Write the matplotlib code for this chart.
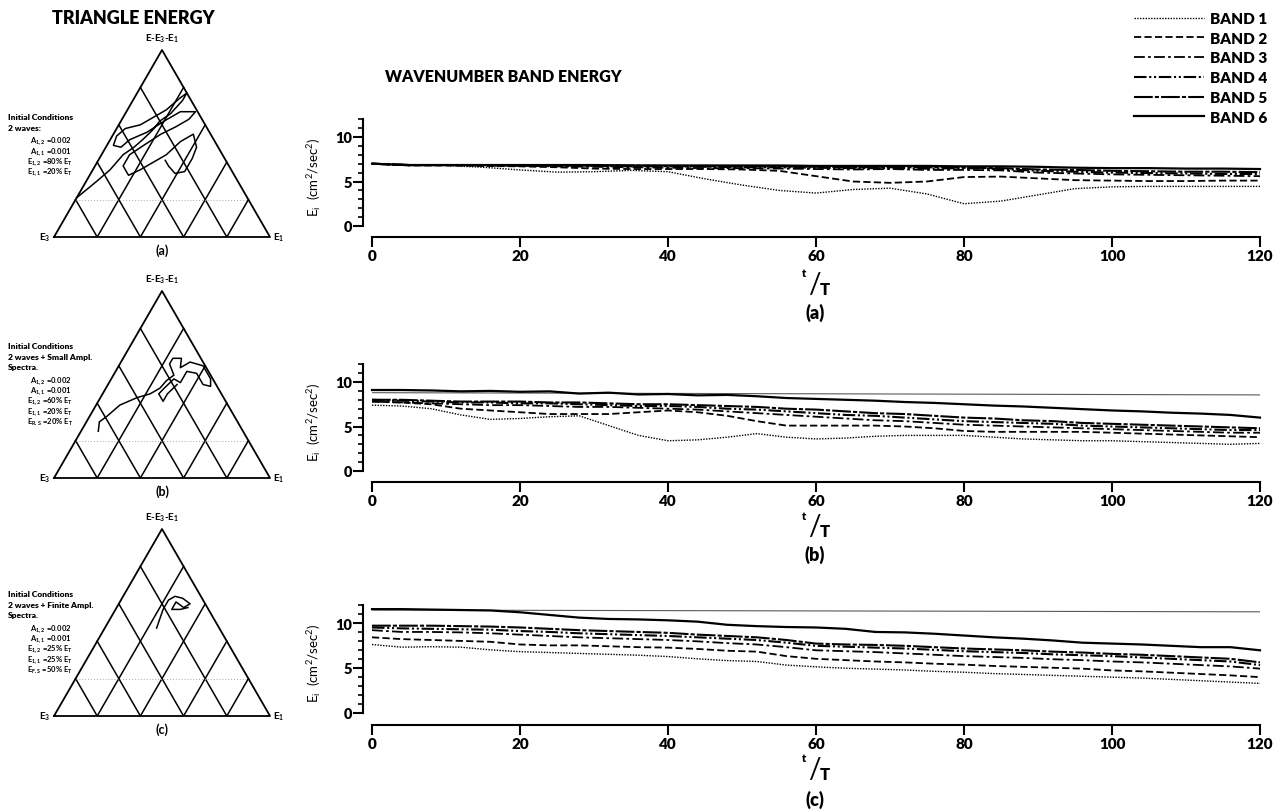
import numpy as np
import matplotlib
matplotlib.use('Agg')
import matplotlib.pyplot as plt
from matplotlib.ticker import MultipleLocator

W, H = 1287, 812
plt.rcParams['font.family'] = ['Lato', 'DejaVu Sans']
plt.rcParams['font.weight'] = 'heavy'
plt.rcParams['mathtext.default'] = 'regular'

# ---- band energy time series ----
t_a = np.arange(0, 121, 5)
t_bc = np.arange(0, 121, 4)

band_labels = ['BAND 1', 'BAND 2', 'BAND 3', 'BAND 4', 'BAND 5', 'BAND 6']

a1 = [7.0, 6.8, 6.8, 6.6, 6.3, 6.05, 6.1, 6.25, 6.1, 5.3, 4.6, 4.0, 3.7, 4.1, 4.25, 3.6, 2.5, 2.8, 3.5, 4.2, 4.4, 4.45, 4.45, 4.45, 4.45]
a2 = [7.0, 6.8, 6.8, 6.75, 6.7, 6.6, 6.45, 6.4, 6.4, 6.4, 6.35, 6.2, 5.6, 5.0, 4.85, 5.0, 5.5, 5.55, 5.35, 5.15, 5.1, 5.05, 5.05, 5.1, 5.1]
a3 = [7.0, 6.85, 6.85, 6.8, 6.75, 6.7, 6.65, 6.6, 6.55, 6.5, 6.5, 6.45, 6.4, 6.35, 6.4, 6.3, 6.3, 6.25, 6.0, 5.9, 5.8, 5.75, 5.7, 5.65, 5.6]
a4 = [7.0, 6.85, 6.85, 6.85, 6.8, 6.8, 6.75, 6.7, 6.7, 6.65, 6.6, 6.6, 6.55, 6.5, 6.5, 6.45, 6.5, 6.4, 6.2, 6.1, 6.0, 5.95, 5.9, 5.85, 5.85]
a5 = [7.0, 6.85, 6.85, 6.85, 6.85, 6.8, 6.8, 6.8, 6.75, 6.75, 6.7, 6.7, 6.65, 6.6, 6.6, 6.6, 6.55, 6.5, 6.35, 6.3, 6.2, 6.15, 6.1, 6.1, 6.05]
a6 = [7.0, 6.85, 6.85, 6.85, 6.85, 6.85, 6.85, 6.8, 6.8, 6.8, 6.8, 6.8, 6.75, 6.75, 6.75, 6.75, 6.7, 6.7, 6.65, 6.55, 6.5, 6.5, 6.45, 6.45, 6.4]

b1 = [7.4, 7.3, 7.0, 6.3, 5.8, 5.9, 6.1, 6.2, 5.1, 4.0, 3.4, 3.5, 3.8, 4.2, 3.8, 3.6, 3.7, 3.9, 4.0, 4.0, 4.0, 3.8, 3.6, 3.5, 3.4, 3.4, 3.3, 3.2, 3.1, 3.0, 3.1]
b2 = [7.8, 7.7, 7.5, 7.0, 6.8, 6.6, 6.4, 6.4, 6.4, 6.6, 6.8, 6.6, 6.2, 5.6, 5.1, 5.1, 5.1, 5.1, 5.0, 4.8, 4.5, 4.4, 4.4, 4.4, 4.4, 4.3, 4.2, 4.1, 4.0, 3.9, 3.8]
b3 = [7.8, 7.7, 7.6, 7.5, 7.4, 7.4, 7.3, 7.2, 7.2, 7.1, 7.0, 6.9, 6.7, 6.5, 6.3, 6.1, 5.9, 5.7, 5.6, 5.4, 5.2, 5.1, 5.0, 4.9, 4.8, 4.7, 4.6, 4.5, 4.4, 4.3, 4.3]
b4 = [8.0, 7.9, 7.8, 7.7, 7.7, 7.6, 7.6, 7.5, 7.4, 7.3, 7.3, 7.2, 7.0, 6.9, 6.7, 6.5, 6.3, 6.2, 6.0, 5.8, 5.6, 5.5, 5.4, 5.3, 5.1, 5.0, 4.9, 4.8, 4.7, 4.6, 4.6]
b5 = [8.0, 8.0, 7.9, 7.8, 7.8, 7.8, 7.7, 7.7, 7.6, 7.5, 7.5, 7.4, 7.3, 7.2, 7.0, 6.9, 6.7, 6.5, 6.4, 6.2, 6.0, 5.9, 5.7, 5.6, 5.4, 5.3, 5.2, 5.1, 5.0, 4.9, 4.8]
b6 = [9.1, 9.1, 9.05, 8.95, 9.0, 8.9, 8.95, 8.7, 8.8, 8.6, 8.65, 8.5, 8.55, 8.4, 8.2, 8.1, 8.0, 7.9, 7.75, 7.65, 7.5, 7.35, 7.25, 7.1, 6.95, 6.8, 6.7, 6.55, 6.45, 6.3, 6.0]

c1 = [7.6, 7.3, 7.35, 7.3, 7.0, 6.8, 6.7, 6.6, 6.5, 6.4, 6.25, 6.0, 5.8, 5.7, 5.3, 5.1, 4.95, 4.85, 4.75, 4.6, 4.5, 4.35, 4.25, 4.15, 4.05, 3.95, 3.85, 3.7, 3.55, 3.4, 3.25]
c2 = [8.4, 8.2, 8.1, 8.0, 7.9, 7.6, 7.5, 7.5, 7.4, 7.3, 7.25, 7.1, 6.9, 6.8, 6.3, 6.0, 5.85, 5.7, 5.6, 5.45, 5.35, 5.2, 5.1, 5.0, 4.9, 4.7, 4.6, 4.45, 4.3, 4.15, 3.95]
c3 = [9.2, 9.0, 9.0, 8.95, 8.85, 8.7, 8.55, 8.4, 8.3, 8.2, 8.1, 7.95, 7.75, 7.6, 7.3, 6.95, 6.85, 6.75, 6.6, 6.45, 6.3, 6.2, 6.1, 5.95, 5.85, 5.7, 5.6, 5.45, 5.3, 5.15, 4.9]
c4 = [9.5, 9.4, 9.35, 9.3, 9.25, 9.1, 9.0, 8.85, 8.75, 8.65, 8.55, 8.4, 8.25, 8.1, 7.8, 7.45, 7.35, 7.25, 7.15, 7.0, 6.85, 6.75, 6.65, 6.5, 6.4, 6.3, 6.15, 6.0, 5.85, 5.7, 5.3]
c5 = [9.7, 9.7, 9.7, 9.65, 9.6, 9.5, 9.35, 9.2, 9.1, 9.0, 8.9, 8.7, 8.55, 8.4, 8.1, 7.7, 7.6, 7.55, 7.45, 7.3, 7.15, 7.05, 6.95, 6.8, 6.7, 6.55, 6.45, 6.3, 6.15, 6.0, 5.6]
c6 = [11.55, 11.55, 11.5, 11.45, 11.4, 11.2, 10.9, 10.6, 10.45, 10.4, 10.3, 10.15, 9.8, 9.65, 9.55, 9.5, 9.35, 9.0, 8.95, 8.8, 8.6, 8.4, 8.25, 8.05, 7.8, 7.7, 7.6, 7.45, 7.3, 7.3, 6.95]

# total energy reference lines
ref_t = [0, 120]
ref_b = [8.8, 8.55]
ref_c = [11.45, 11.25]

# ---- triangle trajectories (fractions of E1 and E3) ----
traj_a_e1 = [0.00, 0.05, 0.08, 0.10, 0.13, 0.15, 0.17, 0.18, 0.21, 0.23, 0.23, 0.21, 0.18, 0.14, 0.10, 0.04, 0.02, 0.03, 0.07, 0.09, 0.15, 0.20, 0.25, 0.32, 0.31, 0.27, 0.22, 0.17, 0.13, 0.13, 0.18, 0.22, 0.26, 0.30, 0.33, 0.37, 0.42, 0.43, 0.43, 0.39, 0.34, 0.31]
traj_a_e3 = [0.79, 0.65, 0.56, 0.46, 0.39, 0.33, 0.26, 0.20, 0.13, 0.04, 0.00, 0.05, 0.14, 0.22, 0.30, 0.38, 0.44, 0.48, 0.45, 0.39, 0.29, 0.18, 0.08, 0.01, 0.06, 0.14, 0.23, 0.34, 0.43, 0.49, 0.49, 0.42, 0.34, 0.26, 0.16, 0.08, 0.10, 0.15, 0.22, 0.27, 0.28, 0.28]

traj_b_e1 = [0.08, 0.06, 0.08, 0.11, 0.17, 0.22, 0.25, 0.26, 0.28, 0.23, 0.23, 0.27, 0.29, 0.32, 0.39, 0.46, 0.48, 0.44, 0.38, 0.33, 0.33, 0.29, 0.27, 0.26, 0.30, 0.30, 0.32]
traj_b_e3 = [0.67, 0.64, 0.59, 0.50, 0.40, 0.33, 0.27, 0.22, 0.17, 0.16, 0.13, 0.09, 0.12, 0.06, 0.01, 0.01, 0.03, 0.06, 0.06, 0.10, 0.16, 0.18, 0.25, 0.29, 0.29, 0.25, 0.18]

traj_c_e1 = [0.24, 0.23, 0.22, 0.22, 0.24, 0.28, 0.33, 0.31, 0.26, 0.26, 0.30, 0.33]
traj_c_e3 = [0.29, 0.25, 0.21, 0.16, 0.12, 0.09, 0.07, 0.11, 0.13, 0.17, 0.13, 0.09]

grid_fracs = [0.2, 0.4, 0.6, 0.8]

notes_a = ['A$_{1,2}$ =0.002', 'A$_{1,1}$ =0.001', 'E$_{1,2}$ =80% E$_T$', 'E$_{1,1}$ =20% E$_T$']
notes_b = ['A$_{1,2}$ =0.002', 'A$_{1,1}$ =0.001', 'E$_{1,2}$ =60% E$_T$', 'E$_{1,1}$ =20% E$_T$', 'E$_{R.S}$ =20% E$_T$']
notes_c = ['A$_{1,2}$ =0.002', 'A$_{1,1}$ =0.001', 'E$_{1,2}$ =25% E$_T$', 'E$_{1,1}$ =25% E$_T$', 'E$_{F.S}$ =50% E$_T$']
heads_a = ['Initial Conditions', '2 waves:']
heads_b = ['Initial Conditions', '2 waves + Small Ampl.', 'Spectra.']
heads_c = ['Initial Conditions', '2 waves + Finite Ampl.', 'Spectra.']

styles = [
    dict(ls=(0, (1, 1)), lw=1.0),
    dict(ls=(0, (4, 1.8)), lw=1.3),
    dict(ls=(0, (6, 1.8, 1.5, 1.8)), lw=1.3),
    dict(ls=(0, (6, 1.3, 1, 1.3, 1, 1.3)), lw=1.5),
    dict(ls=(0, (9, 1, 2, 1)), lw=1.5),
    dict(ls='-', lw=1.6),
]


def fx(px):
    return px / W


def fy(py):
    return 1 - py / H


def tern(e1, e3):
    e1 = np.asarray(e1, float)
    e3 = np.asarray(e3, float)
    h = 1 - e1 - e3
    return e1 + 0.5 * h, h * np.sqrt(3) / 2


fig = plt.figure(figsize=(W / 100, H / 100), dpi=100)

fig.text(fx(133), fy(19), 'TRIANGLE ENERGY', ha='center', va='center', fontsize=13)
fig.text(fx(385), fy(77), 'WAVENUMBER BAND ENERGY', ha='left', va='center', fontsize=11.5)

# triangle panels: base pixel row, letter, trajectory, headings, notes, first text row
tri_panels = [
    (238, '(a)', traj_a_e1, traj_a_e3, heads_a, notes_a, 118),
    (479, '(b)', traj_b_e1, traj_b_e3, heads_b, notes_b, 347),
    (717, '(c)', traj_c_e1, traj_c_e3, heads_c, notes_c, 595),
]

for base, letter, e1, e3, heads, notes, top in tri_panels:
    ax = fig.add_axes([fx(54), fy(base), 216 / W, 187 / H])
    ax.set_xlim(0, 1)
    ax.set_ylim(0, np.sqrt(3) / 2)
    ax.axis('off')
    cx, cy = tern([0, 1, 0, 0], [1, 0, 0, 1])
    ax.plot(cx, cy, color='k', lw=1.3, clip_on=False)
    for f in grid_fracs:
        gx, gy = tern([f, f], [1 - f, 0])
        ax.plot(gx, gy, color='k', lw=1.1)
        gx, gy = tern([1 - f, 0], [f, f])
        ax.plot(gx, gy, color='k', lw=1.1)
    hx, hy = tern([0, 0.8], [0.8, 0])
    ax.plot(hx, hy, color='0.65', lw=0.7, ls=(0, (1, 2)))
    px, py = tern(e1, e3)
    ax.plot(px, py, color='k', lw=1.1)
    ax.text(0.5, 1.065, 'E-E$_3$-E$_1$', transform=ax.transAxes, ha='center', va='center', fontsize=7, fontweight='bold')
    ax.text(-0.015, 0.0, 'E$_3$', transform=ax.transAxes, ha='right', va='center', fontsize=7, fontweight='bold')
    ax.text(1.015, 0.0, 'E$_1$', transform=ax.transAxes, ha='left', va='center', fontsize=7, fontweight='bold')
    ax.text(0.5, -0.07, letter, transform=ax.transAxes, ha='center', va='center', fontsize=9, fontweight='bold')
    y = top
    for line in heads:
        fig.text(fx(8), fy(y), line, ha='left', va='center', fontsize=6)
        y += 10.3
    y += 3
    for i, line in enumerate(notes):
        fig.text(fx(30 if i < 2 else 27), fy(y), line, ha='left', va='center', fontsize=5.5, fontweight='bold')
        y += 10.3

# band panels: zero row, ten row, x-axis row, t/T row, letter row
band_panels = [
    (227, 138, 238, 285, 313, '(a)', t_a, [a1, a2, a3, a4, a5, a6], None),
    (472, 383, 483, 527, 555, '(b)', t_bc, [b1, b2, b3, b4, b5, b6], ref_b),
    (713.5, 624, 726, 770, 800, '(c)', t_bc, [c1, c2, c3, c4, c5, c6], ref_c),
]

legend_handles = None
for zero, ten, xrow, trow, lrow, letter, t, bands, ref in band_panels:
    unit = (zero - ten) / 10
    ax = fig.add_axes([fx(372), fy(zero), 888 / W, 12 * unit / H])
    ax.set_xlim(0, 120)
    ax.set_ylim(0, 12)
    if ref is not None:
        ax.plot(ref_t, ref, color='0.35', lw=0.8)
    handles = []
    for vals, st in zip(bands, styles):
        ln, = ax.plot(t, vals, color='k', ls=st['ls'], lw=st['lw'], clip_on=False)
        handles.append(ln)
    if legend_handles is None:
        legend_handles = handles
    for s in ['top', 'right']:
        ax.spines[s].set_visible(False)
    ax.spines['left'].set_position(('outward', 9 * 0.72))
    ax.spines['bottom'].set_position(('outward', (xrow - zero) * 0.72))
    ax.spines['left'].set_linewidth(1.5)
    ax.spines['bottom'].set_linewidth(1.5)
    ax.set_xticks([0, 20, 40, 60, 80, 100, 120])
    ax.set_yticks([0, 5, 10])
    ax.yaxis.set_minor_locator(MultipleLocator(1))
    ax.tick_params(axis='x', direction='out', length=7, width=1.5, labelsize=11, pad=2)
    ax.tick_params(axis='y', which='major', direction='out', length=7, width=1.5, labelsize=10.5, pad=1)
    ax.tick_params(axis='y', which='minor', direction='out', length=3.5, width=1.2)
    ax.set_ylabel('E$_i$  (cm$^2$/sec$^2$)', fontsize=9.5)
    ax.yaxis.set_label_coords(-0.055, 0.47)
    fig.text(fx(804), fy(trow - 11), 't', ha='center', va='center', fontsize=8)
    fig.text(fx(814), fy(trow), '/', ha='center', va='center', fontsize=20, fontweight='normal')
    fig.text(fx(825), fy(trow + 5), 'T', ha='center', va='center', fontsize=12)
    fig.text(fx(815), fy(lrow), letter, ha='center', va='center', fontsize=13)

fig.legend(legend_handles, band_labels, loc='upper left', bbox_to_anchor=(fx(1134), fy(13)),
           frameon=False, handlelength=4.6, handletextpad=0.4, labelspacing=0.44,
           borderpad=0, borderaxespad=0, prop={'weight': 'heavy', 'size': 11})

fig.savefig('out.png', dpi=100)
